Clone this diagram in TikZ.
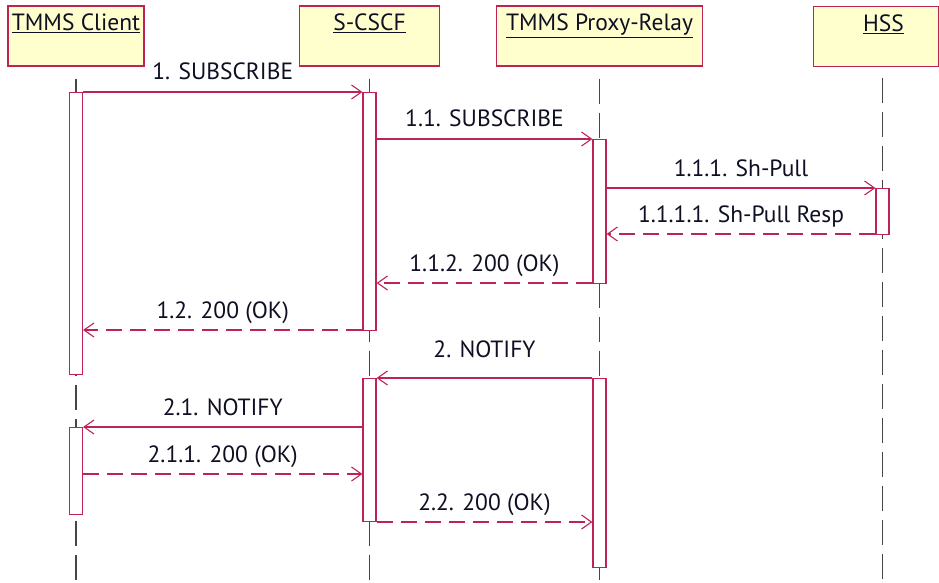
\documentclass[tikz,border=0pt]{standalone}
\usepackage{fontspec}
\setmainfont{PT Sans}
\usepackage{xcolor}
\definecolor{umlred}{RGB}{190,35,85}
\definecolor{umlyellow}{RGB}{255,255,206}
\definecolor{lifegray}{RGB}{70,70,70}
\definecolor{umltext}{RGB}{15,15,35}
\usepackage{tikz}
\usetikzlibrary{arrows.meta, positioning, calc}

\begin{document}
\begin{tikzpicture}[
  x=1pt, y=-1pt,
  font=\fontsize{23.5}{27}\selectfont, text=umltext,
  head/.style={rectangle, draw=umlred, fill=umlyellow, line width=1.1pt,
               minimum height=60pt, text height=23pt, text depth=33pt,
               inner ysep=2pt, inner xsep=2pt},
  lifeline/.style={draw=lifegray, line width=1.2pt, dash pattern=on 25pt off 9pt},
  actbar/.style={rectangle, draw=umlred, fill=white, line width=1.1pt,
                 minimum width=13pt, inner sep=0pt, anchor=north},
  msg/.style={draw=umlred, line width=1.1pt,
              -{Straight Barb[length=10pt, width=14pt, line width=1.1pt]}},
  reply/.style={msg, dash pattern=on 16pt off 8pt},
  lbl/.style={midway, anchor=base, yshift=12pt, text=umltext},
]
\useasboundingbox (0,0) rectangle (939,583);

% Lifeline heads
\node[head, minimum width=136pt] (client) at (76,36) {\underline{TMMS Client}};
\node[head, minimum width=140pt] (scscf) at (369.5,36) {\underline{S-CSCF}};
\node[head, minimum width=206pt] (proxy) at (599.5,36) {\underline{TMMS Proxy-Relay}};
\node[head, minimum width=125pt, anchor=north west] (hss) at (813,6) {\hspace*{15pt}\underline{HSS}};

% Lifelines
\draw[lifeline] ([yshift=-12pt]client.south) -- (client.south |- 0,583);
\draw[lifeline] ([yshift=-12pt]scscf.south) -- (scscf.south |- 0,583);
\draw[lifeline] ([yshift=-12pt]proxy.south) -- (proxy.south |- 0,583);
\draw[lifeline] (882.5,78) -- (882.5,583);

% Activations
\node[actbar, minimum height=282pt] (cbar1) at (76,92) {};
\node[actbar, minimum height=238pt] (sbar1) at (369.5,92) {};
\node[actbar, minimum height=144pt] (pbar1) at (599.5,139) {};
\node[actbar, minimum height=46pt] (hbar) at (882.5,188) {};
\node[actbar, minimum height=143pt] (sbar2) at (369.5,378) {};
\node[actbar, minimum height=189pt] (pbar2) at (599.5,378) {};
\node[actbar, minimum height=87pt] (cbar2) at (76,427) {};

% Messages
\draw[msg] (cbar1.east |- 0,92) -- (sbar1.west |- 0,92) node[lbl] {1. SUBSCRIBE};
\draw[msg] (sbar1.east |- 0,139) -- (pbar1.west |- 0,139) node[lbl] {1.1. SUBSCRIBE};
\draw[msg] (pbar1.east |- 0,188) -- (hbar.west |- 0,188) node[lbl] {1.1.1. Sh-Pull};
\draw[reply] (hbar.west |- 0,234) -- (pbar1.east |- 0,234) node[lbl] {1.1.1.1. Sh-Pull Resp};
\draw[reply] (pbar1.west |- 0,283) -- (sbar1.east |- 0,283) node[lbl] {1.1.2. 200 (OK)};
\draw[reply] (sbar1.west |- 0,330) -- (cbar1.east |- 0,330) node[lbl] {1.2. 200 (OK)};
\draw[msg] (pbar2.west |- 0,378) -- (sbar2.east |- 0,378) node[lbl, yshift=9pt] {2. NOTIFY};
\draw[msg] (sbar2.west |- 0,427) -- (cbar2.east |- 0,427) node[lbl] {2.1. NOTIFY};
\draw[reply] (cbar2.east |- 0,474) -- (sbar2.west |- 0,474) node[lbl] {2.1.1. 200 (OK)};
\draw[reply] (sbar2.east |- 0,522) -- (pbar2.west |- 0,522) node[lbl] {2.2. 200 (OK)};

\end{tikzpicture}
\end{document}
